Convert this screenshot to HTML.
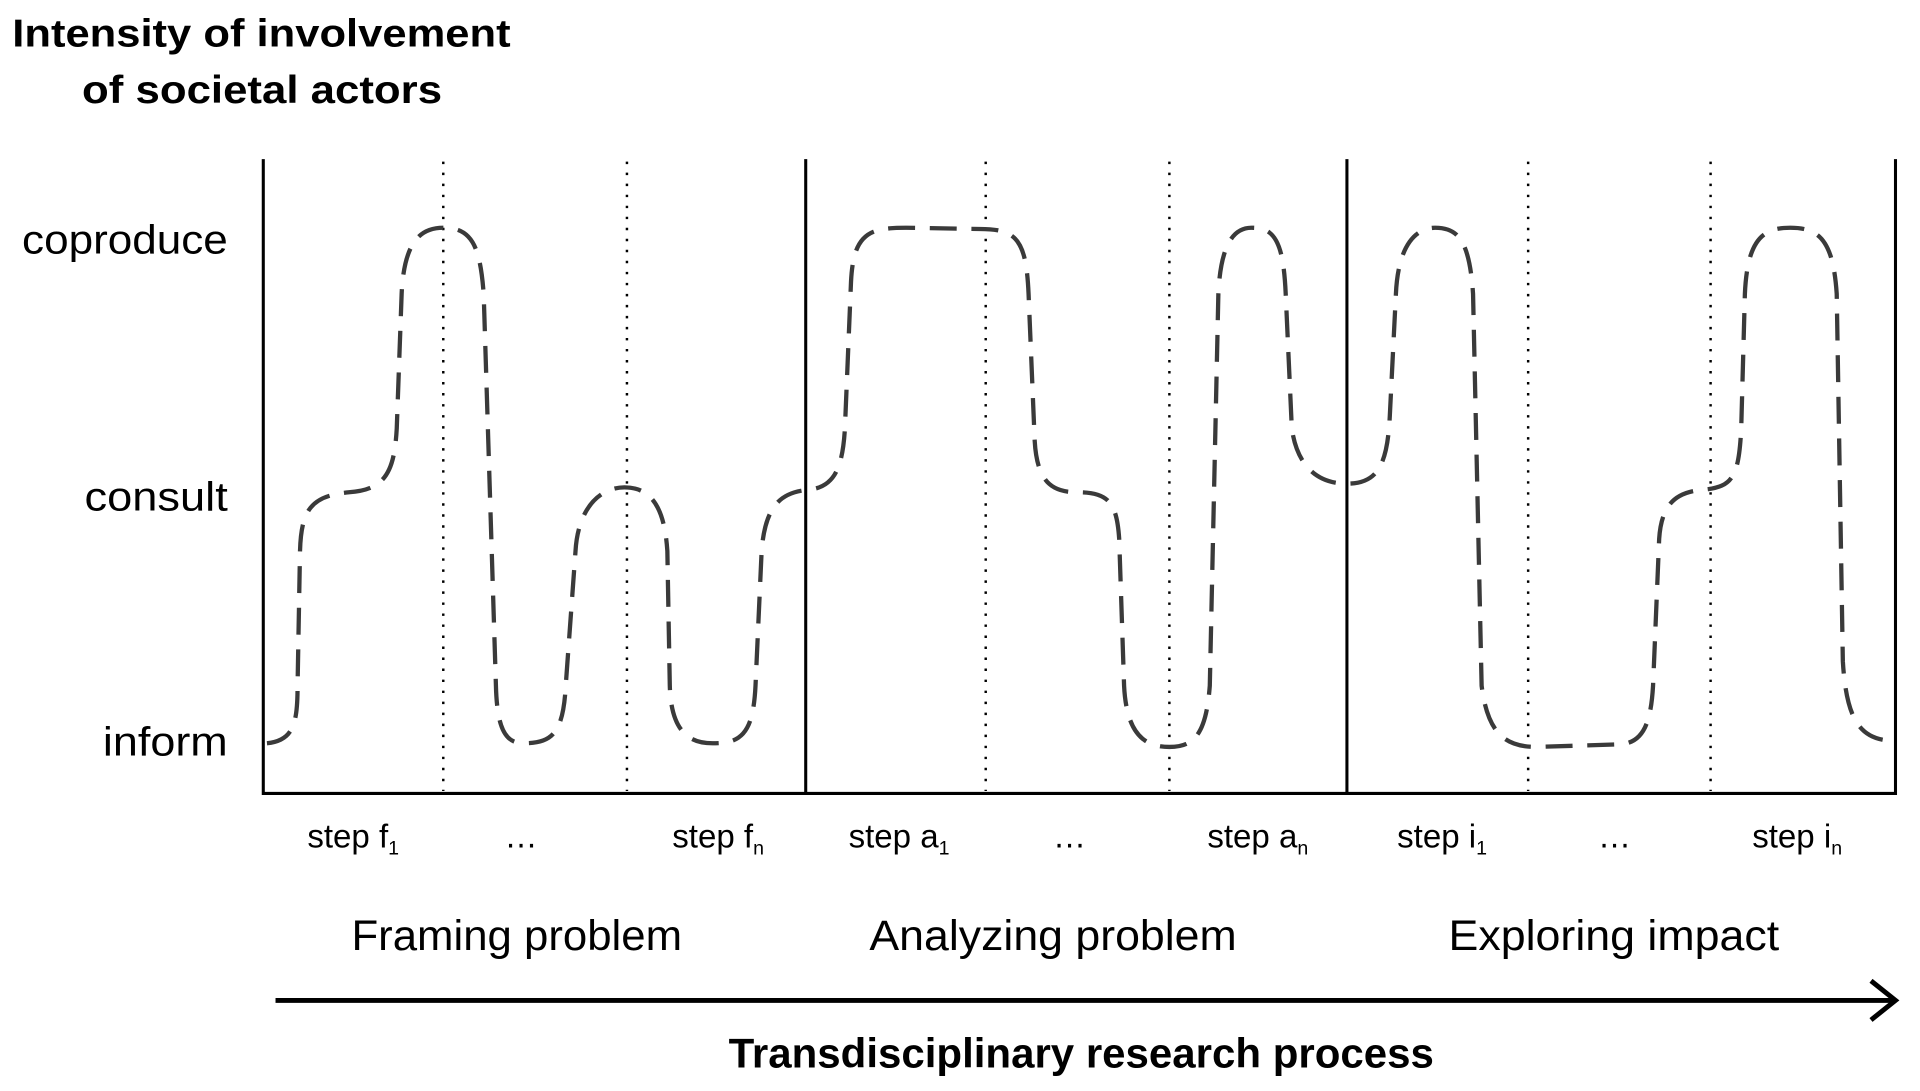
<!DOCTYPE html>
<html><head><meta charset="utf-8"><style>html,body{margin:0;padding:0;background:#fff}svg{display:block}</style></head>
<body>
<svg width="1920" height="1091" viewBox="0 0 1568 891" xmlns="http://www.w3.org/2000/svg" font-family="Liberation Sans, sans-serif">
<rect width="1568" height="891" fill="#fff"/>
<g fill="#000">
<text x="10" y="38" font-size="32" font-weight="bold" textLength="407" lengthAdjust="spacingAndGlyphs">Intensity of involvement</text>
<text x="67" y="84" font-size="32" font-weight="bold" textLength="294" lengthAdjust="spacingAndGlyphs">of societal actors</text>
<text x="186" y="207" font-size="33" text-anchor="end" textLength="168" lengthAdjust="spacingAndGlyphs">coproduce</text>
<text x="186" y="417" font-size="33" text-anchor="end" textLength="117" lengthAdjust="spacingAndGlyphs">consult</text>
<text x="186" y="617" font-size="33" text-anchor="end" textLength="102" lengthAdjust="spacingAndGlyphs">inform</text>
<g font-size="27">
<text x="251" y="692">step f<tspan font-size="16" dy="6">1</tspan></text>
<text x="412" y="692">…</text>
<text x="549" y="692">step f<tspan font-size="16" dy="6">n</tspan></text>
<text x="693" y="692">step a<tspan font-size="16" dy="6">1</tspan></text>
<text x="860" y="692">…</text>
<text x="986" y="692">step a<tspan font-size="16" dy="6">n</tspan></text>
<text x="1141" y="692">step i<tspan font-size="16" dy="6">1</tspan></text>
<text x="1305" y="692">…</text>
<text x="1431" y="692">step i<tspan font-size="16" dy="6">n</tspan></text>
</g>
<g font-size="35" text-anchor="middle">
<text x="422" y="776" textLength="270" lengthAdjust="spacingAndGlyphs">Framing problem</text>
<text x="860" y="776" textLength="300" lengthAdjust="spacingAndGlyphs">Analyzing problem</text>
<text x="1318" y="776" textLength="270" lengthAdjust="spacingAndGlyphs">Exploring impact</text>
</g>
<text x="883" y="872" font-size="34" font-weight="bold" text-anchor="middle" textLength="576" lengthAdjust="spacingAndGlyphs">Transdisciplinary research process</text>
</g>
<g stroke="#000" fill="none">
<path d="M215,130 V648 H1548 V130" stroke-width="2.5"/>
<line x1="658" y1="130" x2="658" y2="648" stroke-width="2.5"/>
<line x1="1100" y1="130" x2="1100" y2="648" stroke-width="2.5"/>
<g stroke-width="2" stroke-dasharray="2 7">
<line x1="362" y1="132" x2="362" y2="646"/><line x1="512" y1="132" x2="512" y2="646"/>
<line x1="805" y1="132" x2="805" y2="646"/><line x1="955" y1="132" x2="955" y2="646"/>
<line x1="1248" y1="132" x2="1248" y2="646"/><line x1="1397" y1="132" x2="1397" y2="646"/>
</g>
<line x1="225" y1="817" x2="1548" y2="817" stroke-width="4"/>
<path d="M1528,801 L1548,817 L1528,833" stroke-width="4"/>
<path stroke="#3a3a3a" stroke-width="3.5" stroke-dasharray="22 12" d="M218,607 C240,605 243,590 243,560 L245,450 C246,415 255,405 285,402 C315,400 322,385 324,350 L328,240 C330,195 345,186 362,186 C385,186 392,200 395,240 L405,560 C406,600 415,607 428,607 C450,607 460,600 462,560 L470,450 C472,415 490,398 510,398 C535,398 543,420 545,450 L547,560 C548,600 565,607 582,607 C605,607 615,600 617,560 L622,450 C625,410 640,402 660,400 C680,398 688,385 690,350 L695,230 C697,190 710,186 740,186 L800,187 C830,187 838,195 840,240 L845,360 C847,395 860,402 880,402 C905,402 912,410 914,440 L918,560 C920,600 935,610 955,610 C975,610 985,600 988,560 L995,240 C997,195 1010,186 1022,186 C1040,186 1048,195 1050,240 L1055,350 C1060,385 1080,395 1100,395 C1125,395 1133,380 1135,340 L1140,240 C1142,195 1160,186 1172,186 C1190,186 1200,195 1203,240 L1210,560 C1215,600 1230,610 1255,610 L1320,608 C1340,608 1348,595 1350,560 L1355,440 C1357,410 1370,402 1390,400 C1415,398 1420,390 1422,350 L1425,240 C1427,195 1440,186 1462,186 C1485,186 1497,195 1500,240 L1505,540 C1508,590 1520,605 1548,605"/>
</g>
</svg>
</body></html>
